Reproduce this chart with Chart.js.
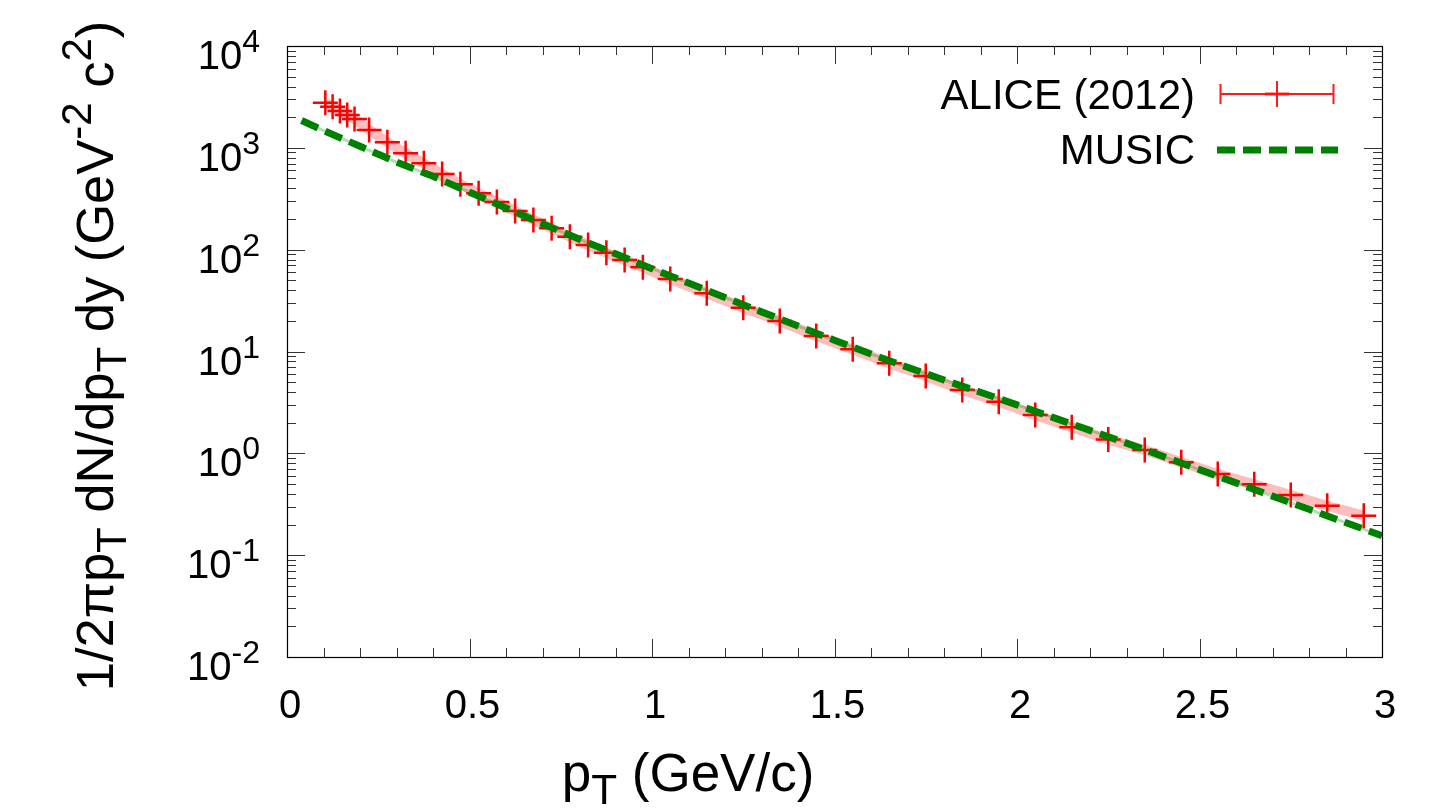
<!DOCTYPE html>
<html>
<head>
<meta charset="utf-8">
<script src="https://cdn.jsdelivr.net/npm/chart.js@4"></script>
<style>
  html, body { margin: 0; padding: 0; background: #fff; }
  #wrap { width: 1448px; height: 810px; }
</style>
</head>
<body>
<div id="wrap"><canvas id="c" width="1448" height="810"></canvas></div>
<script>
// ALICE (2012) points, pT in GeV/c
const aliceX = [0.105, 0.125, 0.145, 0.165, 0.185, 0.225, 0.275, 0.325, 0.375, 0.425,
  0.475, 0.525, 0.575, 0.625, 0.675, 0.725, 0.775, 0.825, 0.875, 0.925, 0.975,
  1.05, 1.15, 1.25, 1.35, 1.45, 1.55, 1.65, 1.75, 1.85, 1.95,
  2.05, 2.15, 2.25, 2.35, 2.45, 2.55, 2.65, 2.75, 2.85, 2.95];
const aliceY = [2775, 2535, 2300, 2100, 1920, 1497, 1133, 883, 705, 553,
  438, 358, 293, 240, 196, 162, 134, 111, 93.3, 79.2, 67.1,
  51.5, 37.3, 26.9, 19.9, 14.2, 10.5, 7.66, 5.74, 4.19, 3.21,
  2.38, 1.80, 1.37, 1.08, 0.816, 0.625, 0.497, 0.390, 0.306, 0.244];

// MUSIC curve
const musicX = [0.04, 0.1, 0.2, 0.3, 0.4, 0.5, 0.6, 0.7, 0.8, 0.9, 1.0,
  1.1, 1.2, 1.3, 1.4, 1.5, 1.6, 1.7, 1.8, 1.9, 2.0,
  2.1, 2.2, 2.3, 2.4, 2.5, 2.6, 2.7, 2.8, 2.9, 3.0];
const musicY = [1855, 1480, 1035, 725, 525, 367, 257, 180, 127, 91, 65,
  47, 33.9, 24.5, 17.8, 12.9, 9.44, 7.0, 5.25, 3.98, 2.99,
  2.24, 1.68, 1.26, 0.933, 0.692, 0.513, 0.380, 0.282, 0.209, 0.155];

const xTicks = [0, 0.5, 1, 1.5, 2, 2.5, 3];
const xTickLabels = ['0', '0.5', '1', '1.5', '2', '2.5', '3'];
const yDecades = [-2, -1, 0, 1, 2, 3, 4];
const legendLabels = ['ALICE (2012)', 'MUSIC'];

const FONT = '"Liberation Sans", Arial, sans-serif';

const pts = (xs, ys) => xs.map((x, i) => ({ x, y: ys[i] }));

// draw text runs with sub/superscripts
function richWidth(ctx, runs, size){
  let w = 0;
  runs.forEach(([t, m]) => {
    ctx.font = `${m ? size * 0.8 : size}px ${FONT}`;
    w += ctx.measureText(t).width;
  });
  return w;
}
function drawRich(ctx, runs, x, y, size, align){
  const w = richWidth(ctx, runs, size);
  let cx = align === 'right' ? x - w : align === 'center' ? x - w / 2 : x;
  runs.forEach(([t, m]) => {
    const s = m ? size * 0.8 : size;
    const dy = m === 'sub' ? size * 0.25 : m === 'sup' ? -size * 0.42 : 0;
    ctx.font = `${s}px ${FONT}`;
    ctx.fillText(t, cx, y + dy);
    cx += ctx.measureText(t).width;
  });
}

const frame = {
  id: 'frame',
  afterDatasetsDraw(chart){
    const { ctx, chartArea: a, scales: { x, y } } = chart;
    ctx.save();
    ctx.fillStyle = '#000';
    ctx.textBaseline = 'alphabetic';

    // ticks (inward, mirrored)
    ctx.strokeStyle = '#333';
    ctx.lineWidth = 1;
    ctx.beginPath();
    for (let i = 0; i <= 30; i++) {
      const px = Math.round(x.getPixelForValue(i / 10)) + 0.5;
      const len = i % 5 === 0 ? 18 : 9;
      ctx.moveTo(px, a.bottom); ctx.lineTo(px, a.bottom - len);
      ctx.moveTo(px, a.top); ctx.lineTo(px, a.top + len);
    }
    yDecades.forEach(d => {
      for (let k = 1; k <= 9; k++) {
        if (d === 4 && k > 1) break;
        const py = Math.round(y.getPixelForValue(k * Math.pow(10, d))) + 0.5;
        const len = k === 1 ? 18 : 9;
        ctx.moveTo(a.left, py); ctx.lineTo(a.left + len, py);
        ctx.moveTo(a.right, py); ctx.lineTo(a.right - len, py);
      }
    });
    ctx.stroke();

    // border
    ctx.strokeStyle = '#000';
    ctx.lineWidth = 1.2;
    ctx.strokeRect(Math.round(a.left) + 0.5, Math.round(a.top) + 0.5,
      Math.round(a.right - a.left), Math.round(a.bottom - a.top));

    // tick labels
    xTicks.forEach((v, i) => {
      drawRich(ctx, [[xTickLabels[i], '']], x.getPixelForValue(v) + 3, a.bottom + 61, 40, 'center');
    });
    yDecades.forEach(d => {
      const py = y.getPixelForValue(Math.pow(10, d));
      ctx.font = `32px ${FONT}`;
      const sup = d < 0 ? '-' + (-d) : String(d);
      const sw = ctx.measureText(sup).width;
      drawRich(ctx, [['10', '']], 260 - sw, py + 23, 40, 'right');
      ctx.font = `32px ${FONT}`;
      ctx.fillText(sup, 260 - sw, py + 6);
    });

    // axis titles
    drawRich(ctx, [['p', ''], ['T', 'sub'], [' (GeV/c)', '']], 688, 791, 53, 'center');
    ctx.save();
    ctx.translate(113, 356);
    ctx.rotate(-Math.PI / 2);
    drawRich(ctx, [['1/2πp', ''], ['T', 'sub'], [' dN/dp', ''], ['T', 'sub'], [' dy (GeV', ''],
      ['-2', 'sup'], [' c', ''], ['2', 'sup'], [')', '']], 0, 0, 52.5, 'center');
    ctx.restore();

    // legend
    drawRich(ctx, [[legendLabels[0], '']], 1195, 109, 42, 'right');
    drawRich(ctx, [[legendLabels[1], '']], 1195, 164, 42, 'right');
    ctx.strokeStyle = 'rgba(255,0,0,0.9)';
    ctx.lineWidth = 2;
    ctx.beginPath();
    ctx.moveTo(1220, 94); ctx.lineTo(1334, 94);
    ctx.moveTo(1220.5, 84); ctx.lineTo(1220.5, 104);
    ctx.moveTo(1333.5, 84); ctx.lineTo(1333.5, 104);
    ctx.moveTo(1277, 81); ctx.lineTo(1277, 107);
    ctx.stroke();
    ctx.strokeStyle = 'rgba(255,0,0,0.4)';
    ctx.lineWidth = 4;
    ctx.beginPath(); ctx.moveTo(1265, 94); ctx.lineTo(1289, 94); ctx.stroke();
    ctx.strokeStyle = '#008000';
    ctx.lineWidth = 7;
    ctx.setLineDash([18, 8]);
    ctx.beginPath(); ctx.moveTo(1217, 150); ctx.lineTo(1338, 150); ctx.stroke();
    ctx.restore();
  }
};

new Chart(document.getElementById('c'), {
  type: 'scatter',
  data: {
    datasets: [
      { label: 'band', data: pts(aliceX, aliceY), showLine: true, pointRadius: 0,
        borderColor: 'rgba(255,90,90,0.4)', borderWidth: 10, order: 4 },
      { label: 'ALICE (2012)', data: pts(aliceX, aliceY), showLine: false,
        pointStyle: 'cross', pointRadius: 12.5, borderColor: '#ff0000', backgroundColor: '#ff0000',
        pointBorderWidth: 2.5, order: 3 },
      { label: 'MUSIC thin', data: pts(musicX, musicY), showLine: true, pointRadius: 0,
        borderColor: 'rgba(0,150,0,0.3)', borderWidth: 3, order: 2 },
      { label: 'MUSIC', data: pts(musicX, musicY), showLine: true, pointRadius: 0,
        borderColor: '#008000', borderWidth: 7, borderDash: [18, 8], order: 1 }
    ]
  },
  options: {
    responsive: false,
    animation: false,
    layout: { padding: { left: 287, top: 46, right: 66, bottom: 153 } },
    plugins: { legend: { display: false }, tooltip: { enabled: false } },
    scales: {
      x: { type: 'linear', min: 0, max: 3,
        ticks: { display: false }, grid: { display: false }, border: { display: false },
        afterFit: s => { s.height = 0; } },
      y: { type: 'logarithmic', min: 0.01, max: 10000,
        ticks: { display: false }, grid: { display: false }, border: { display: false },
        afterFit: s => { s.width = 0; } }
    }
  },
  plugins: [frame]
});
</script>
</body>
</html>
